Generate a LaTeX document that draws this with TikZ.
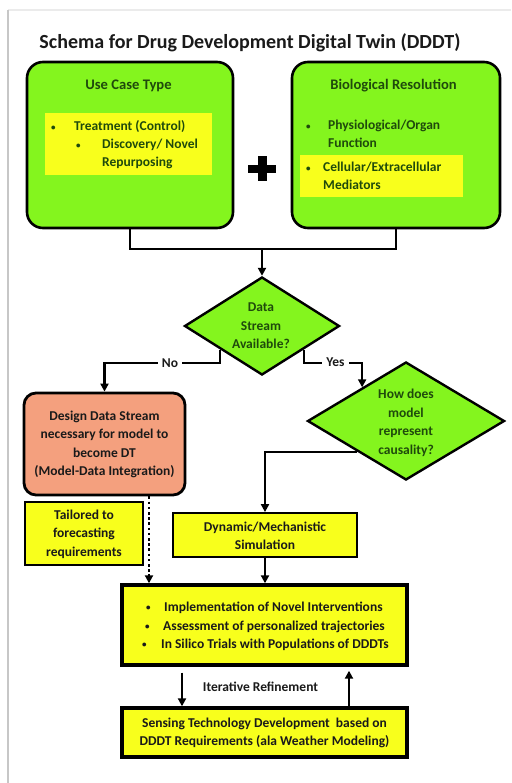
\documentclass[tikz,border=0pt]{standalone}
\usepackage{fontspec}
\setmainfont{Carlito}
\usetikzlibrary{shapes.geometric,arrows.meta,calc}

\definecolor{boxgreen}{HTML}{84F51E}
\definecolor{boxyellow}{HTML}{F8FF1C}
\definecolor{boxsalmon}{HTML}{F4A07E}
\definecolor{leafink}{HTML}{1F4A0C}
\definecolor{ink}{HTML}{1A1A1A}

% small list bullet
\newcommand\dotmark{\raisebox{0.8pt}{\fontsize{9}{9}\selectfont •}}

\tikzset{
  txt/.style={font=\fontsize{13.5}{18.5}\selectfont\bfseries, text=ink, inner sep=0pt},
  gtxt/.style={txt, text=leafink},
  headtxt/.style={gtxt, font=\fontsize{14.6}{18.5}\selectfont\bfseries},
  greenpanel/.style={draw=black, line width=2.6pt, fill=boxgreen, rounded corners=16pt, inner sep=0pt},
  innerband/.style={fill=boxyellow, inner sep=0pt},
  choice/.style={diamond, draw=black, line width=2.4pt, fill=boxgreen, inner sep=0pt},
  ybox/.style={draw=black, fill=boxyellow, inner sep=0pt},
  link/.style={draw=black, line width=2.4pt},
  arr/.style={link, -{Triangle[length=8pt,width=8pt]}},
}

\begin{document}
\begin{tikzpicture}[x=1pt,y=-1pt]
\useasboundingbox (0,0) rectangle (511,783);
\fill[white] (0,0) rectangle (511,783);

% page frame
\draw[black!8, line width=1.5pt] (8,10) -- (511,10);
\draw[black!22, line width=2pt] (8,10) -- (8,783);

% title
\node[font=\fontsize{20}{24}\selectfont\bfseries, text=ink, inner sep=0pt, anchor=base] (title) at (250,49)
  {Schema for Drug Development Digital Twin (DDDT)};

% top panels
\node[greenpanel, minimum width=206pt, minimum height=166pt] (ucase) at (130,145) {};
\node[greenpanel, minimum width=208pt, minimum height=166pt] (bres) at (396,145) {};
\node[innerband, minimum width=167pt, minimum height=62pt] (ucaseband) at (128.5,144) {};
\node[innerband, minimum width=163pt, minimum height=42pt] (bresband) at (381.5,176) {};

\node[headtxt, anchor=base] (ucasehead) at (128.5,89.5) {Use Case Type};
\node[gtxt, anchor=base west] (ub1) at (51,131) {\dotmark};
\node[gtxt, anchor=base west] (ut1) at (74,131) {Treatment (Control)};
\node[gtxt, anchor=base west] (ub2) at (76,149) {\dotmark};
\node[gtxt, anchor=base west] (ut2) at (102,149) {Discovery/ Novel};
\node[gtxt, anchor=base west] (ut3) at (102,167) {Repurposing};

\node[headtxt, anchor=base] (breshead) at (393.5,89.5) {Biological Resolution};
\node[gtxt, anchor=base west] (bb1) at (306,130) {\dotmark};
\node[gtxt, anchor=base west] (bt1) at (328,130) {Physiological/Organ};
\node[gtxt, anchor=base west] (bt2) at (328,148) {Function};
\node[gtxt, anchor=base west] (bb2) at (306,172) {\dotmark};
\node[gtxt, anchor=base west] (bt3) at (323,172) {Cellular/Extracellular};
\node[gtxt, anchor=base west] (bt4) at (323,190) {Mediators};

% plus sign between the panels
\node[inner sep=0pt] (plus) at (262,169) {};
\draw[line width=8.5pt] ($(plus.center)+(-14,0)$) -- ($(plus.center)+(14,0)$);
\draw[line width=9pt] ($(plus.center)+(0,-12.5)$) -- ($(plus.center)+(0,12.5)$);

% decisions
\node[choice, minimum width=155pt, minimum height=98pt] (d1) at (262,326) {};
\node[gtxt, align=center] (d1text) at (261,326) {Data\\Stream\\Available?};
\node[choice, minimum width=197pt, minimum height=118pt] (d2) at (406,421) {};
\node[gtxt, align=center] (d2text) at (406,423) {How does\\model\\represent\\causality?};

% outcome boxes
\node[draw=black, line width=2.8pt, fill=boxsalmon, rounded corners=12pt, inner sep=0pt,
      minimum width=161pt, minimum height=102pt] (design) at (104.5,444) {};
\node[txt, align=center] (designtext) at (104.5,444.5)
  {Design Data Stream\\necessary for model to\\become DT\\(Model-Data Integration)};

\node[ybox, line width=1.6pt, minimum width=118pt, minimum height=63pt] (tailor) at (84,533.5) {};
\node[txt, align=center] (tailortext) at (84,534) {Tailored to\\forecasting\\requirements};

\node[ybox, line width=1.8pt, minimum width=184pt, minimum height=44pt] (dyn) at (265,535) {};
\node[txt, align=center] (dyntext) at (265,536) {Dynamic/Mechanistic\\Simulation};

\node[ybox, line width=3.4pt, minimum width=285pt, minimum height=80pt] (big) at (264.5,625) {};
\node[txt, anchor=base west] (gb1) at (146,611.5) {\dotmark};
\node[txt, anchor=base west] (gt1) at (164,611.5) {Implementation of Novel Interventions};
\node[txt, anchor=base west] (gb2) at (145,630) {\dotmark};
\node[txt, anchor=base west] (gt2) at (163,630) {Assessment of personalized trajectories};
\node[txt, anchor=base west] (gb3) at (142,648.5) {\dotmark};
\node[txt, anchor=base west] (gt3) at (161,648.5) {In Silico Trials with Populations of DDDTs};

\node[ybox, line width=3.4pt, minimum width=285pt, minimum height=49pt] (sense) at (264.5,732.5) {};
\node[txt, align=center] (sensetext) at (264.5,733)
  {Sensing Technology Development\ \ based on\\DDDT Requirements (ala Weather Modeling)};

% connectors
\coordinate (merge) at (262,249);
\draw[link] (ucase.south) |- (merge) -| (bres.south);
\draw[arr] (merge) -- (d1.north);

\coordinate (nofoot) at ($(d1.west)!0.47!(d1.south)$);
\coordinate (nolevel) at (150,363);
\draw[arr] (nofoot) |- (nolevel) -| (design.north);
\node[txt, fill=white, inner xsep=4pt, inner ysep=2pt] (nolabel) at (170,363) {No};

\coordinate (yesfoot) at ($(d1.south)!0.53!(d1.east)$);
\coordinate (yesentry) at ($(d2.north)!0.44!(d2.west)$);
\coordinate (yeslevel) at (330,363);
\draw[arr] (yesfoot) |- (yeslevel) -| (yesentry);
\node[txt, fill=white, inner xsep=4pt, inner ysep=2pt] (yeslabel) at (335.5,362.5) {Yes};

\coordinate (causefoot) at ($(d2.west)!0.51!(d2.south)$);
\draw[arr] (causefoot) -| (dyn.north);

\coordinate (dotx) at (149,0);
\draw[link, dash pattern=on 2.6pt off 2.6pt, -{Triangle[length=8pt,width=8pt]}]
  (design.south -| dotx) -- (big.north -| dotx);

\draw[arr] (dyn.south) -- (big.north -| dyn.south);

\coordinate (itl) at (182,0);
\coordinate (itr) at (349,0);
\draw[arr] ([yshift=-6pt]big.south -| itl) -- (sense.north -| itl);
\draw[arr] (sense.north -| itr) -- ([yshift=-4pt]big.south -| itr);
\node[txt] (iterlabel) at (260.5,687) {Iterative Refinement};

\end{tikzpicture}
\end{document}
